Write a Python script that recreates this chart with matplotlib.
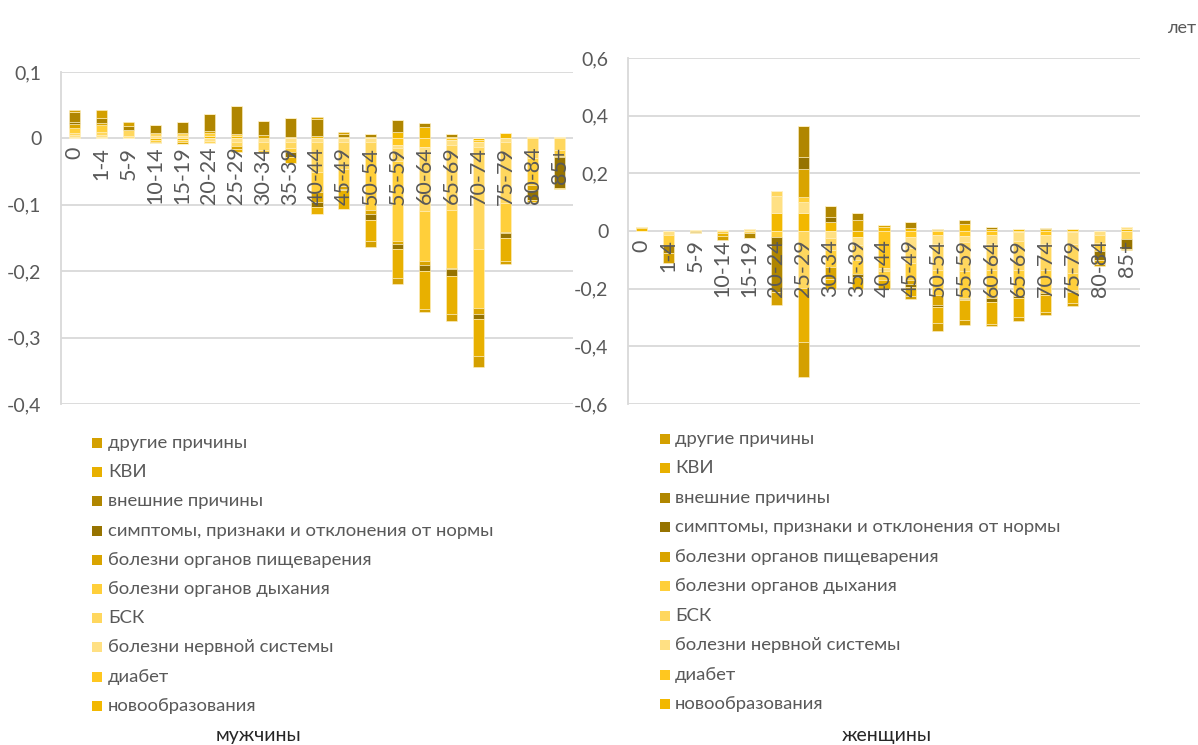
import numpy as np
import matplotlib
matplotlib.use('Agg')
import matplotlib.pyplot as plt
import matplotlib.transforms as mtransforms
from matplotlib.patches import Rectangle
from matplotlib.ticker import FixedLocator, FuncFormatter

plt.rcParams['font.family'] = ['Lato', 'DejaVu Sans']

ages = ['0', '1-4', '5-9', '10-14', '15-19', '20-24', '25-29', '30-34', '35-39', '40-44',
        '45-49', '50-54', '55-59', '60-64', '65-69', '70-74', '75-79', '80-84', '85+']

causes = ['новообразования', 'диабет', 'болезни нервной системы', 'БСК',
          'болезни органов дыхания', 'болезни органов пищеварения',
          'симптомы, признаки и отклонения от нормы', 'внешние причины', 'КВИ', 'другие причины']
colors = ['#F2B800', '#FFC71F', '#FFE083', '#FFD75E', '#FFCF3A', '#D9A400',
          '#967300', '#B08600', '#E8B000', '#D4A000']

# men
m_nov = [.002, .0025, 0, -.002, -.003, .004, .003, 0, .0025, .0035, .002, .002, .01, .0165, .002, -.002, .0085, 0, 0]
m_dia = [0, 0, 0, 0, 0, 0, 0, 0, 0, 0, 0, 0, -.01, -.0125, -.003, -.003, 0, 0, 0]
m_nerv = [.003, .002, .004, .003, .003, -.004, -.006, -.005, -.005, -.005, -.006, -.005, -.004, -.01, -.0075, -.0075, -.005, .0015, .0015]
m_bsk = [.003, .005, .0085, .0055, .0055, -.0035, -.006, -.012, -.01, -.045, -.04, -.0175, -.02, -.0865, -.0975, -.1545, -.0925, -.03, -.0175]
m_resp = [.008, .0105, 0, -.003, -.003, .0035, .0035, -.003, -.005, -.03, -.025, -.085, -.12, -.076, -.087, -.089, -.043, -.04, -.0085]
m_dig = [.005, .0025, 0, -.002, -.003, .004, -.004, .005, 0, -.016, -.005, -.0065, -.005, -.006, -.002, -.0085, -.002, -.008, -.002]
m_sym = [.004, 0, 0, 0, 0, 0, 0, 0, -.0075, -.008, -.002, -.0095, -.007, -.009, -.01, -.0075, -.008, -.015, -.046]
m_ext = [.0145, .0075, .006, .012, .0155, .025, .042, .021, .028, .025, .005, .0045, .0175, .006, .0045, 0, 0, 0, 0]
m_kvi = [0, 0, 0, 0, 0, 0, -.004, -.0025, -.01, -.01, -.028, -.0315, -.044, -.057, -.057, -.055, -.0345, -.003, -.002]
m_oth = [.003, .0125, .0055, 0, 0, 0, 0, 0, 0, .003, .0025, -.0085, -.01, -.005, -.011, -.018, -.004, -.002, 0]

# women
w_nov = [.009, 0, 0, 0, 0, .061, .061, .032, -.02, .0126, .009, .004, .023, .006, .008, .008, .006, 0, .008]
w_dia = [0, 0, 0, 0, 0, 0, 0, 0, 0, -.13, -.02, -.015, -.017, -.014, -.005, -.014, -.004, 0, 0]
w_nerv = [0, -.015, .003, .003, .007, .06, .04, -.025, -.03, -.01, -.04, -.03, -.02, -.03, -.03, -.03, -.04, -.015, .007]
w_bsk = [0, 0, 0, 0, -.007, .019, -.199, -.04, -.05, 0, -.05, -.09, -.1, -.09, -.1, -.09, -.1, -.025, -.027]
w_resp = [0, -.033, 0, -.008, 0, -.02, .017, -.06, -.05, -.03, -.06, -.086, -.095, -.099, -.092, -.081, -.06, -.03, 0]
w_dig = [.006, 0, -.004, 0, 0, 0, .096, -.04, .038, .008, -.015, -.035, -.003, 0, 0, 0, -.005, 0, 0]
w_sym = [0, 0, 0, 0, 0, -.03, .043, .017, -.01, 0, -.01, -.008, -.003, -.012, -.005, -.006, -.002, -.03, -.037]
w_ext = [0, -.028, -.004, 0, -.018, -.16, .106, .037, .025, 0, .021, .002, .015, .008, 0, .004, 0, 0, 0]
w_kvi = [0, 0, 0, -.008, 0, 0, -.187, -.035, -.04, -.03, -.03, -.056, -.07, -.076, -.067, -.06, -.04, -.015, 0]
w_oth = [0, -.036, 0, -.015, 0, -.045, -.119, 0, 0, 0, -.012, -.027, -.017, -.009, -.012, -.009, -.008, -.005, -.002]

men = [m_nov, m_dia, m_nerv, m_bsk, m_resp, m_dig, m_sym, m_ext, m_kvi, m_oth]
women = [w_nov, w_dia, w_nerv, w_bsk, w_resp, w_dig, w_sym, w_ext, w_kvi, w_oth]

W, H = 1198, 745
fig = plt.figure(figsize=(W / 100, H / 100), dpi=100)
TXT = '#595959'
GRID = '#D9D9D9'


def fmt(v, pos):
    if abs(v) < 1e-9:
        return '0'
    return ('%.1f' % v).replace('.', ',')


def draw(rect, series, ylim, ystep):
    ax = fig.add_axes(rect)
    x = np.arange(len(ages))
    pos = np.zeros(len(ages))
    neg = np.zeros(len(ages))
    for vals, col in zip(series, colors):
        v = np.array(vals, dtype=float)
        vp = np.where(v > 0, v, 0)
        vn = np.where(v < 0, v, 0)
        ax.bar(x, vp, bottom=pos, width=0.41, color=col, edgecolor='#FFF1C4', linewidth=0.4, zorder=2)
        ax.bar(x, vn, bottom=neg, width=0.41, color=col, edgecolor='#FFF1C4', linewidth=0.4, zorder=2)
        pos += vp
        neg += vn
    ax.set_xlim(-0.5, len(ages) - 0.5)
    ax.set_ylim(*ylim)
    ticks = np.round(np.arange(ylim[0], ylim[1] + ystep / 2, ystep), 3)
    ax.yaxis.set_major_locator(FixedLocator(ticks))
    ax.yaxis.set_major_formatter(FuncFormatter(fmt))
    ax.yaxis.grid(True, color=GRID, linewidth=1.3)
    ax.set_axisbelow(True)
    for s in ['top', 'right', 'bottom']:
        ax.spines[s].set_visible(False)
    ax.spines['left'].set_color(GRID)
    ax.spines['left'].set_linewidth(1.3)
    ax.set_xticks([])
    ax.tick_params(axis='y', length=0, pad=14, labelcolor=TXT, labelsize=14)
    # category labels placed next to the zero line, on top of the bars
    tr = mtransforms.offset_copy(ax.transData, fig=fig, x=0, y=-6, units='points')
    for xi, lab in zip(x, ages):
        ax.text(xi, 0, lab, rotation=90, ha='center', va='top', color=TXT,
                fontsize=15.5, transform=tr, zorder=6, clip_on=False)
    return ax


ax1 = draw([61 / W, 1 - 404 / H, 512 / W, 332 / H], men, (-0.4, 0.1), 0.1)
ax2 = draw([628 / W, 1 - 404 / H, 512 / W, 346 / H], women, (-0.6, 0.6), 0.2)


def legend(sq_x, txt_x, y0, step):
    for i, (name, col) in enumerate(zip(causes[::-1], colors[::-1])):
        yc = y0 + i * step
        fig.patches.append(Rectangle((sq_x / W, 1 - (yc + 5) / H), 10 / W, 10 / H,
                                     transform=fig.transFigure, facecolor=col, edgecolor='none'))
        fig.text(txt_x / W, 1 - yc / H, name, color=TXT, fontsize=13.3, va='center', ha='left')


legend(92, 108, 443, 29.2)
legend(660, 675, 439, 29.45)

fig.text(258 / W, 1 - 744 / H, 'мужчины', color='#262626', fontsize=14, ha='center', va='bottom')
fig.text(887 / W, 1 - 744 / H, 'женщины', color='#262626', fontsize=14, ha='center', va='bottom')
fig.text(1182 / W, 1 - 28 / H, 'лет', color=TXT, fontsize=13, ha='center', va='center')

fig.savefig('out.png', dpi=100)
